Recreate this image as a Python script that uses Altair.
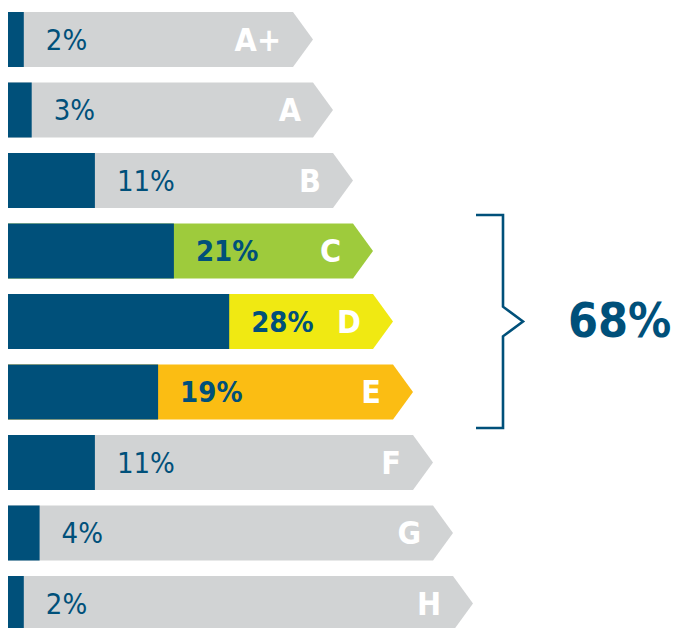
import altair as alt
import pandas as pd

# ---- data ----
labels = ["A+", "A", "B", "C", "D", "E", "F", "G", "H"]
shares = [2, 3, 11, 21, 28, 19, 11, 4, 2]
fills = ["#d1d3d4", "#d1d3d4", "#d1d3d4", "#9ecb3c", "#f0e912", "#fbbd13",
         "#d1d3d4", "#d1d3d4", "#d1d3d4"]
highlight = [False, False, False, True, True, True, False, False, False]
group_labels = ["C", "D", "E"]
group_total = "68%"

# ---- layout / style ----
BLUE = "#00507a"
FONT = "DejaVu Sans Condensed"
W, H = 669, 620
PX = 7.9            # pixels per percentage point
PITCH = 70.5        # pixels between rows
Y0 = 31.5           # centre of first row (px from top)
HALF = 27.5 / PITCH
XMAX = W / PX
YMIN = -Y0 / PITCH
YMAX = (H - Y0) / PITCH
FLAT0, STEP, TIP = 285 / PX, 20 / PX, 20 / PX

rows = pd.DataFrame({"label": labels, "share": shares, "fillc": fills, "hl": highlight})
rows["row"] = range(len(rows))
rows["top"] = rows["row"] - HALF
rows["bot"] = rows["row"] + HALF
rows["zero"] = 0.0
rows["flat"] = FLAT0 + STEP * rows["row"]
rows["pct"] = rows["share"].astype(str) + "%"

pts = []
for _, r in rows.iterrows():
    pts.append({"label": r.label, "fillc": r.fillc, "yy": r.top, "xx": r.flat, "x0": 0.0})
    pts.append({"label": r.label, "fillc": r.fillc, "yy": float(r.row), "xx": r.flat + TIP, "x0": 0.0})
    pts.append({"label": r.label, "fillc": r.fillc, "yy": r.bot, "xx": r.flat, "x0": 0.0})
arrows = pd.DataFrame(pts)

xs = alt.Scale(domain=[0, XMAX], nice=False, zero=False)
ys = alt.Scale(domain=[YMIN, YMAX], nice=False, zero=False, reverse=True)

arrow_layer = alt.Chart(arrows).mark_area(orient="horizontal", interpolate="linear").encode(
    y=alt.Y("yy:Q", scale=ys, axis=None),
    x=alt.X("xx:Q", scale=xs, axis=None, stack=None),
    x2="x0:Q",
    fill=alt.Fill("fillc:N", scale=None),
    detail="label:N",
)

bars = alt.Chart(rows).mark_rect(color=BLUE).encode(
    x=alt.X("zero:Q", scale=xs, axis=None), x2="share:Q",
    y=alt.Y("top:Q", scale=ys, axis=None), y2="bot:Q",
)

pct_plain = alt.Chart(rows).transform_filter("!datum.hl").mark_text(
    align="left", baseline="middle", dx=22, dy=1, font=FONT, fontSize=29, color=BLUE
).encode(x=alt.X("share:Q", scale=xs, axis=None), y=alt.Y("row:Q", scale=ys, axis=None), text="pct:N")

pct_bold = alt.Chart(rows).transform_filter("datum.hl").mark_text(
    align="left", baseline="middle", dx=22, dy=1, font=FONT, fontSize=29, fontWeight="bold", color=BLUE
).encode(x=alt.X("share:Q", scale=xs, axis=None), y=alt.Y("row:Q", scale=ys, axis=None), text="pct:N")

letters = alt.Chart(rows).mark_text(
    align="right", baseline="middle", dx=-12, dy=1, font=FONT, fontSize=32, fontWeight="bold", color="white"
).encode(x=alt.X("flat:Q", scale=xs, axis=None), y=alt.Y("row:Q", scale=ys, axis=None), text="label:N")

# bracket around the highlighted group
g_first = labels.index(group_labels[0])
g_mid = labels.index(group_labels[len(group_labels) // 2])
g_last = labels.index(group_labels[-1])
arm, spine, notch = 468 / PX, 495 / PX, 515 / PX
bracket = pd.DataFrame({
    "x": [arm, spine, spine, notch, spine, spine, arm],
    "y": [g_first - 0.51, g_first - 0.51, g_mid - 0.21, g_mid, g_mid + 0.21, g_last + 0.51, g_last + 0.51],
    "o": list(range(7)),
})
bracket_layer = alt.Chart(bracket).mark_line(color=BLUE, strokeWidth=2.6).encode(
    x=alt.X("x:Q", scale=xs, axis=None), y=alt.Y("y:Q", scale=ys, axis=None), order="o:Q"
)

total = alt.Chart(pd.DataFrame({"x": [560 / PX], "y": [g_mid], "t": [group_total]})).mark_text(
    align="left", baseline="middle", dy=1, font=FONT, fontSize=48, fontWeight="bold", color=BLUE
).encode(x=alt.X("x:Q", scale=xs, axis=None), y=alt.Y("y:Q", scale=ys, axis=None), text="t:N")

chart = alt.layer(arrow_layer, bars, pct_plain, pct_bold, letters, bracket_layer, total).properties(
    width=W, height=H, autosize=alt.AutoSizeParams(type="none"), padding=0
).configure_view(stroke=None)

chart.save("out.html", embed_options={"renderer": "svg", "actions": False})
